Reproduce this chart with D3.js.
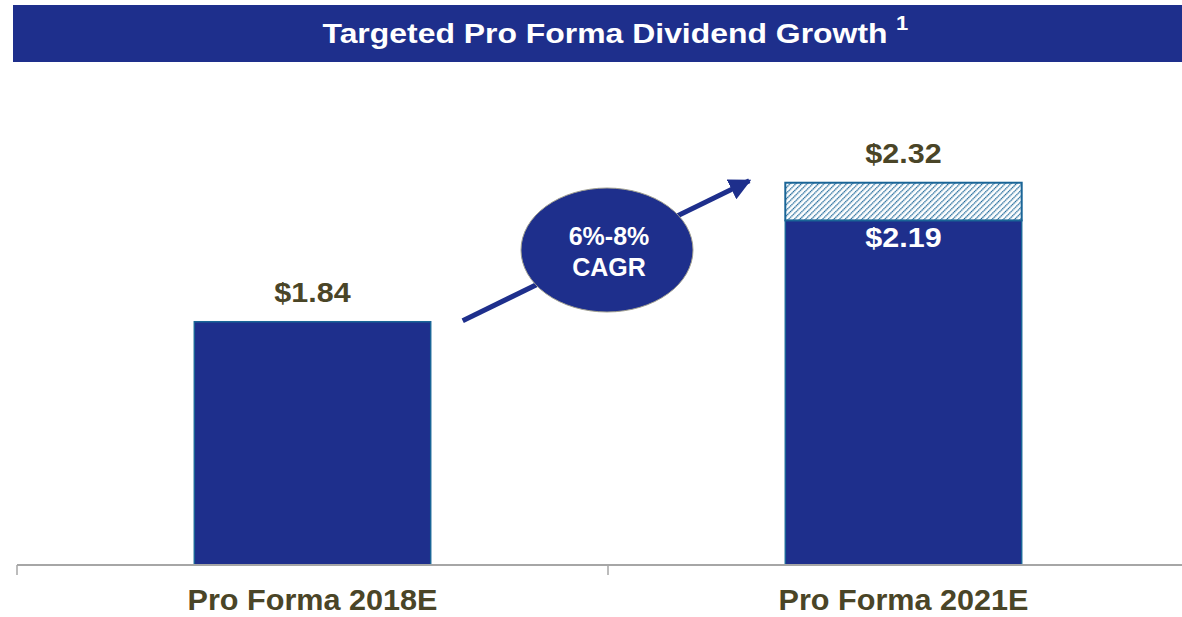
<!DOCTYPE html>
<html>
<head>
<meta charset="utf-8">
<script src="https://cdn.jsdelivr.net/npm/d3@7"></script>
<style>
  html, body { margin: 0; padding: 0; background: #fff; }
  svg { display: block; font-family: "Liberation Sans", Arial, sans-serif; }
</style>
</head>
<body>
<div id="chart"></div>
<script>
const categories = ['Pro Forma 2018E', 'Pro Forma 2021E'];
const baseValues = [1.84, 2.19];
const upsideValues = [0, 0.13]; // hatched part on top, 2.19 -> 2.32
const totalLabels = ['$1.84', '$2.32'];
const baseLabels = ['', '$2.19'];
const cagrText = ['6%-8%', 'CAGR'];
const title = 'Targeted Pro Forma Dividend Growth';

const width = 1182;
const height = 617;
const navy = '#1e2f8c';
const olive = '#4a4527';
const teal = '#1a6597';

const svg = d3.select('#chart').append('svg')
  .attr('width', width)
  .attr('height', height);

// text is a bit wider than the font in the original, stretch it horizontally
function stretched(g, px, py, sx) {
  return g.append('text')
    .attr('transform', `translate(${px},${py}) scale(${sx},1)`)
    .attr('text-anchor', 'middle')
    .attr('font-weight', 'bold');
}

// hatch pattern for the targeted upside
const defs = svg.append('defs');
const pat = defs.append('pattern')
  .attr('id', 'hatch')
  .attr('patternUnits', 'userSpaceOnUse')
  .attr('width', 4)
  .attr('height', 4)
  .attr('patternTransform', 'rotate(45)');
pat.append('rect').attr('width', 4).attr('height', 4).attr('fill', '#fff');
pat.append('line')
  .attr('x1', 0).attr('y1', 0).attr('x2', 0).attr('y2', 4)
  .attr('stroke', teal).attr('stroke-width', 2.6)
  .attr('stroke-dasharray', '1.5,0.5');

defs.append('marker')
  .attr('id', 'head')
  .attr('viewBox', '0 0 10 10')
  .attr('refX', 9).attr('refY', 5)
  .attr('markerWidth', 4.4).attr('markerHeight', 4.4)
  .attr('markerUnits', 'strokeWidth')
  .attr('orient', 'auto')
  .append('path')
  .attr('d', 'M0,0 L10,5 L0,10 Z')
  .attr('fill', navy);

// title bar
svg.append('rect')
  .attr('x', 13).attr('y', 5)
  .attr('width', width - 13).attr('height', 57)
  .attr('fill', navy);
stretched(svg, 605, 43, 1.14)
  .attr('fill', '#fff')
  .attr('font-size', 28)
  .text(title);
stretched(svg, 902, 30, 1.1)
  .attr('fill', '#fff')
  .attr('font-size', 20)
  .text('1');

const x = d3.scaleBand()
  .domain(categories)
  .range([17, 17 + 2 * 591])
  .paddingInner(0.6)
  .paddingOuter(0.3);

const y = d3.scaleLinear()
  .domain([1.0, 2.5])
  .range([565, 130.6]);

const data = categories.map((c, i) => ({
  cat: c,
  base: baseValues[i],
  top: baseValues[i] + upsideValues[i],
  totalLabel: totalLabels[i],
  baseLabel: baseLabels[i]
}));

// bars
svg.append('g').selectAll('rect')
  .data(data)
  .join('rect')
  .attr('x', d => x(d.cat))
  .attr('y', d => y(d.base))
  .attr('width', x.bandwidth())
  .attr('height', d => y(1.0) - y(d.base))
  .attr('fill', navy)
  .attr('stroke', teal)
  .attr('stroke-width', 1.5);

svg.append('g').selectAll('rect')
  .data(data.filter(d => d.top > d.base))
  .join('rect')
  .attr('x', d => x(d.cat))
  .attr('y', d => y(d.top))
  .attr('width', x.bandwidth())
  .attr('height', d => y(d.base) - y(d.top))
  .attr('fill', 'url(#hatch)')
  .attr('stroke', teal)
  .attr('stroke-width', 2);

// axis
const axis = svg.append('g')
  .attr('transform', `translate(0,${y(1.0)})`);
axis.append('line')
  .attr('x1', 17).attr('x2', width)
  .attr('stroke', '#a6a6a6').attr('stroke-width', 2);
axis.selectAll('line.tick')
  .data(categories)
  .join('line')
  .attr('class', 'tick')
  .attr('x1', d => x(d) - x.step() * 0.3)
  .attr('x2', d => x(d) - x.step() * 0.3)
  .attr('y1', 0).attr('y2', 10)
  .attr('stroke', '#a6a6a6').attr('stroke-width', 1.5);
categories.forEach(c => {
  stretched(axis, x(c) + x.bandwidth() / 2, 45, 1.02)
    .attr('fill', olive)
    .attr('font-size', 30)
    .text(c);
});

// value labels
data.forEach(d => {
  stretched(svg, x(d.cat) + x.bandwidth() / 2, y(d.top) - 20, 1.13)
    .attr('fill', olive)
    .attr('font-size', 27)
    .text(d.totalLabel);
  if (d.baseLabel) {
    stretched(svg, x(d.cat) + x.bandwidth() / 2, y(d.base) + 27, 1.13)
      .attr('fill', '#fff')
      .attr('font-size', 27)
      .text(d.baseLabel);
  }
});

// growth arrow + CAGR bubble
const x0 = x(categories[0]) + x.bandwidth() + 32;
const x1 = x(categories[1]) - 36;
svg.append('line')
  .attr('x1', x0).attr('y1', y(1.84) - 1)
  .attr('x2', x1).attr('y2', y(2.32) - 2)
  .attr('stroke', navy)
  .attr('stroke-width', 5)
  .attr('marker-end', 'url(#head)');

const cx = (x0 + x1) / 2 + 1;
const cy = 250;
svg.append('ellipse')
  .attr('cx', cx).attr('cy', cy)
  .attr('rx', 86).attr('ry', 62)
  .attr('fill', navy)
  .attr('stroke', '#a09f90')
  .attr('stroke-width', 1);
svg.append('text')
  .attr('text-anchor', 'middle')
  .attr('fill', '#fff')
  .attr('font-size', 25)
  .attr('font-weight', 'bold')
  .selectAll('tspan')
  .data(cagrText)
  .join('tspan')
  .attr('x', cx + 2)
  .attr('y', (d, i) => cy - 5 + i * 31)
  .text(d => d);
</script>
</body>
</html>
